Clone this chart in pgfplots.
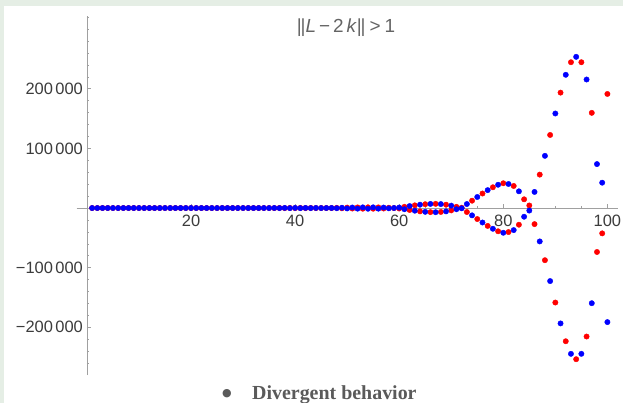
\documentclass[border=0pt]{standalone}
\usepackage{fontspec}
\setmainfont{Liberation Sans}
\newfontfamily\capfont{Liberation Serif}
\newfontfamily\symfont{DejaVu Sans}
\usepackage{pgfplots}
\usepackage{pgfplotstable}
\pgfplotsset{compat=1.18}
\definecolor{band}{RGB}{229,238,229}
\definecolor{axgray}{RGB}{160,160,160}
\definecolor{lblgray}{RGB}{60,60,60}
\definecolor{titlegray}{RGB}{100,100,100}
\definecolor{capgray}{RGB}{90,90,90}
\definecolor{mred}{RGB}{255,0,0}
\definecolor{mblue}{RGB}{0,0,255}

\pgfplotstableread{
n red blue
1 0 0
2 0 0
3 0 0
4 0 0
5 0 0
6 0 0
7 0 0
8 0 0
9 0 0
10 0 0
11 0 0
12 0 0
13 0 0
14 0 0
15 0 0
16 0 0
17 0 0
18 0 0
19 0 0
20 0 0
21 0 0
22 0 0
23 0 0
24 0 0
25 0 0
26 0 0
27 0 0
28 0 0
29 0 0
30 0 0
31 -10 10
32 15 -15
33 -10 10
34 -30 30
35 70 -70
36 -110 110
37 150 -150
38 -180 180
39 200 -200
40 -210 210
41 210 -210
42 -190 190
43 160 -160
44 -120 120
45 70 -70
46 -10 10
47 -100 100
48 300 -300
49 -500 500
50 700 -700
51 -880 880
52 1030 -1030
53 -1140 1140
54 1200 -1200
55 -1180 1180
56 1060 -1060
57 -830 830
58 500 -500
59 -80 80
60 -800 800
61 2000 -2000
62 -3300 3300
63 4500 -4500
64 -5600 5600
65 6400 -6400
66 -6900 6900
67 7000 -7000
68 -6600 6600
69 5600 -5600
70 -4000 4000
71 2000 -2000
72 500 -500
73 -6700 6700
74 12300 -12300
75 -18500 18500
76 24300 -24300
77 -30000 30000
78 34800 -34800
79 -39000 39000
80 41500 -41500
81 -40300 40300
82 37000 -37000
83 -28000 28000
84 14600 -14600
85 4300 -4300
86 -27000 27000
87 56000 -56000
88 -87500 87500
89 122500 -122500
90 -158500 158500
91 193500 -193500
92 -223400 223400
93 244500 -244500
94 -253500 253500
95 244500 -244500
96 -215500 215500
97 159600 -159600
98 -73700 73700
99 -42500 42500
100 191300 -191300
}\datatable

\begin{document}
\begin{tikzpicture}
\useasboundingbox (0,0) rectangle (623bp,403bp);
\fill[white] (0,0) rectangle (623bp,403bp);
\fill[band] (0,0) rectangle (4bp,403bp);
\fill[band] (0,397bp) rectangle (623bp,403bp);
\begin{axis}[
  at={(76.5bp,28bp)}, anchor=south west, scale only axis,
  width=541.3bp, height=359bp,
  xmin=-2, xmax=102, ymin=-280000, ymax=322000,
  axis lines=middle,
  axis line style={draw=axgray, line width=0.8bp, -},
  tick align=inside,
  xtick={20,40,60,80,100},
  xticklabels={20,40,60,80,100},
  minor xtick={5,10,15,25,30,35,45,50,55,65,70,75,85,90,95},
  ytick={-200000,-100000,100000,200000},
  yticklabels={−200\kern2.5pt000,−100\kern2.5pt000,100\kern2.5pt000,200\kern2.5pt000},
  minor ytick={-260000,-240000,-220000,-180000,-160000,-140000,-120000,-80000,-60000,-40000,-20000,20000,40000,60000,80000,120000,140000,160000,180000,220000,240000,260000,280000,300000,320000},
  major tick length=4bp, minor tick length=2.2bp,
  every tick/.style={draw=axgray, line width=0.6bp},
  ticklabel style={font=\fontsize{16.5}{16.5}\selectfont, text=lblgray},
  xticklabel style={yshift=-3.5bp},
  yticklabel style={xshift=-0.5bp},
  scaled y ticks=false,
  clip=false,
]
\addplot[only marks, mark=*, color=mred, mark size=2.7pt] table[x=n, y=red] {\datatable};
\addplot[only marks, mark=*, color=mblue, mark size=2.7pt] table[x=n, y=blue] {\datatable};
\end{axis}
\node[text=titlegray, font=\fontsize{19}{19}\selectfont] at (346bp,375bp) {|\kern-1.2bp|\textit{L}\kern3bp−\kern3bp2\kern3bp\textit{k}|\kern-1.2bp|\kern4bp>\kern4bp1};
\node[text=capgray, font=\symfont\fontsize{11}{11}\selectfont] at (227bp,9bp) {●};
\node[text=capgray, font=\capfont\bfseries\fontsize{20}{20}\selectfont, anchor=base west, inner sep=0pt] at (252bp,4bp) {Divergent behavior};
\end{tikzpicture}
\end{document}
